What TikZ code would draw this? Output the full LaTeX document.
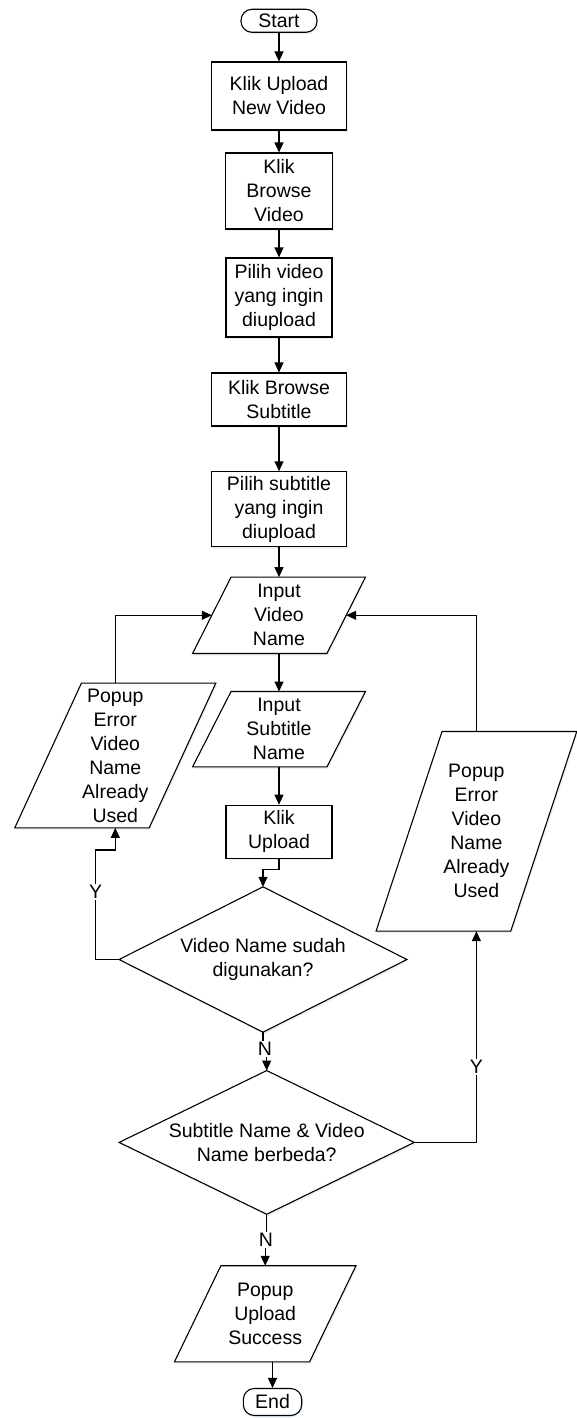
\documentclass[tikz,border=0pt]{standalone}
\usepackage{fontspec}
\setmainfont{Liberation Sans}
\usetikzlibrary{calc,arrows.meta,shadows,backgrounds}
\definecolor{shade}{RGB}{222,234,248}

\tikzset{
  txt/.style={font=\fontsize{19.5}{24}\selectfont, align=center, inner sep=0pt, text=black},
  softshadow/.style={drop shadow={shadow xshift=1.2pt, shadow yshift=-2pt, fill=shade, opacity=0.7}},
  outline/.style={draw=black, fill=white, line width=1.1pt, softshadow},
  proc/.style 2 args={txt, outline, rectangle, minimum width=#1, minimum height=#2},
  term/.style 2 args={txt, outline, rectangle, rounded corners=11pt, minimum width=#1, minimum height=#2},
  frame/.style 2 args={txt, rectangle, minimum width=#1, minimum height=#2},
  arr/.style={draw=black, line width=1.1pt, -{Triangle[length=10pt,width=9pt]}},
  lbl/.style={txt, fill=white, inner sep=1.5pt}
}

% parallelogram drawn around a frame node: #1 node, #2 half of the horizontal slant
\newcommand\drawio[2]{\path[outline] ($(#1.north west)+(#2,0)$) -- ($(#1.north east)+(#2,0)$)
  -- ($(#1.south east)-(#2,0)$) -- ($(#1.south west)-(#2,0)$) -- cycle;}
% decision diamond drawn through the frame node's side anchors
\newcommand\drawdecision[1]{\path[outline] (#1.north) -- (#1.east) -- (#1.south) -- (#1.west) -- cycle;}

\begin{document}
\begin{tikzpicture}[x=1pt,y=-1pt]
\useasboundingbox (0,0) rectangle (577,1418);

% main column
\node[term={76}{23}] (start) at (279,20.8) {Start};
\node[proc={135}{68}] (b1) at (279,96) {Klik Upload\\New Video};
\node[proc={107}{76}] (b2) at (279,191) {Klik\\Browse\\Video};
\node[proc={106}{79}] (b3) at (279,297.5) {Pilih video\\yang ingin\\diupload};
\node[proc={135}{53}] (b4) at (279,399.5) {Klik Browse\\Subtitle};
\node[proc={135}{75}] (b5) at (279,509.3) {Pilih subtitle\\yang ingin\\diupload};
\node[frame={134}{76}] (ivn) at (279,615.3) {Input\\Video\\Name};
\node[frame={134}{75}] (isn) at (279,729.2) {Input\\Subtitle\\Name};
\node[proc={106}{53}] (b6) at (279,831.7) {Klik\\Upload};

% error messages
\node[frame={134}{144.4}] (pe1) at (115.3,755.5) {Popup\\Error\\Video\\Name\\Already\\Used};
\node[frame={134.3}{199.3}] (pe2) at (476.4,831.3) {Popup\\Error\\Video\\Name\\Already\\Used};

% decisions
\node[frame={287.4}{145}] (d1) at (263,959.5) {Video Name sudah\\digunakan?};
\node[frame={294.7}{143.3}] (d2) at (266.7,1142.4) {Subtitle Name \& Video\\Name berbeda?};

% result
\node[frame={134.7}{95.7}] (ok) at (265.2,1313.8) {Popup\\Upload\\Success};
\node[term={58.4}{27}] (end) at (272.5,1402) {End};

% outlines of the input/output and decision shapes
\begin{scope}[on background layer]
  \drawio{ivn}{19.25}
  \drawio{isn}{19.25}
  \drawio{pe1}{33.35}
  \drawio{pe2}{33}
  \drawio{ok}{23.2}
  \drawdecision{d1}
  \drawdecision{d2}
\end{scope}

% routing points
\coordinate (j1) at (279,869.3);
\coordinate (k1) at (95.7,850);
\coordinate (j2) at (265,1049);
\coordinate (j3) at (266,1240);

% connectors
\draw[arr] (start.south) -- (b1.north);
\draw[arr] (b1.south) -- (b2.north);
\draw[arr] (b2.south) -- (b3.north);
\draw[arr] (b3.south) -- (b4.north);
\draw[arr] (b4.south) -- (b5.north);
\draw[arr] (b5.south) -- (ivn.north);
\draw[arr] (ivn.south) -- (isn.north);
\draw[arr] (isn.south) -- (b6.north);
\draw[arr] (b6.south) -- (j1) -| (d1.north);
\draw[arr] (d1.west) -| (k1) -| (pe1.south);
\draw[arr] (pe1.north) |- (ivn.west);
\draw[arr] (d1.south) |- (j2) -| (d2.north);
\draw[arr] (d2.east) -| (pe2.south);
\draw[arr] (pe2.north) |- (ivn.east);
\draw[arr] (d2.south) |- (j3) -| (ok.north);
\draw[arr] (ok.south -| end.north) -- (end.north);

% branch labels
\node[lbl] (y1) at (95.7,891.7) {Y};
\node[lbl] (n1) at (j2) {N};
\node[lbl] (y2) at (476.4,1066.7) {Y};
\node[lbl] (n2) at (j3) {N};
\end{tikzpicture}
\end{document}
